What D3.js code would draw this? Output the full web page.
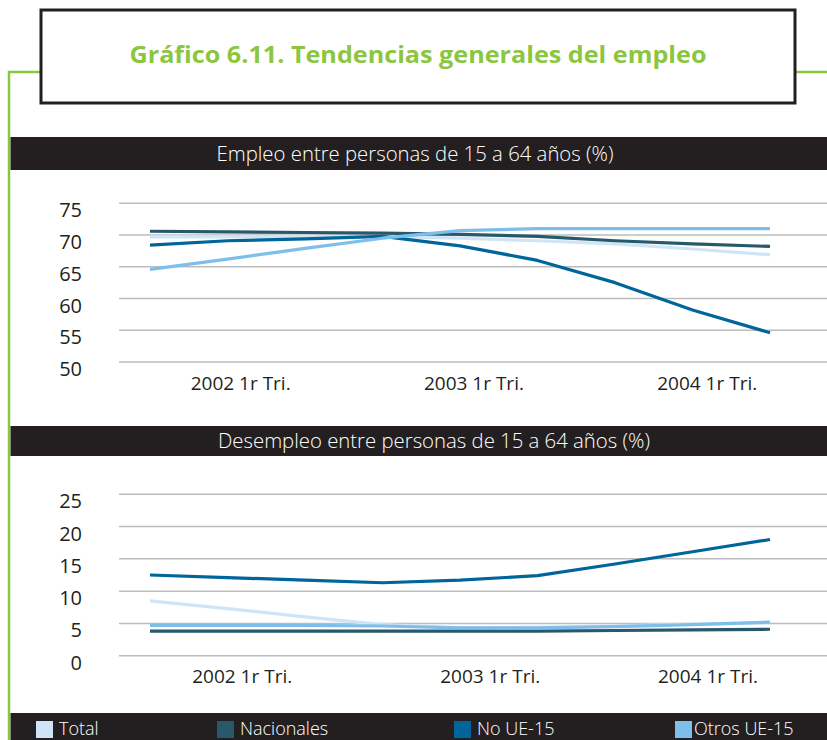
<!DOCTYPE html>
<html>
<head>
<meta charset="utf-8">
<script src="https://cdn.jsdelivr.net/npm/d3@7"></script>
<style>
  html, body { margin: 0; padding: 0; background: #fff; }
  svg { display: block; }
  text { font-family: "Open Sans", "Noto Sans", sans-serif; }
</style>
</head>
<body>
<svg id="chart" width="827" height="740"></svg>
<script>
// ---------- DATA ----------
const title = "Gráfico 6.11. Tendencias generales del empleo";
const panelTitles = ["Empleo entre personas de 15 a 64 años (%)",
                     "Desempleo entre personas de 15 a 64 años (%)"];
const seriesNames = ["Total", "Nacionales", "No UE-15", "Otros UE-15"];
const xLabels = ["2002 1r Tri.", "2003 1r Tri.", "2004 1r Tri."];
// observation index of each label (per panel)
const xLabelPosEmpleo = [1.17, 4.18, 7.19];
const xLabelPosDesempleo = [1.19, 4.39, 7.20];
const yTicksEmpleo = [50, 55, 60, 65, 70, 75];
const yTicksDesempleo = [0, 5, 10, 15, 20, 25];

// Employment (%)
const empleoTotal      = [69.7, 69.7, 69.8, 69.8, 69.5, 69.1, 68.6, 67.8, 66.9];
const empleoNacionales = [70.6, 70.5, 70.4, 70.3, 70.1, 69.8, 69.1, 68.6, 68.2];
const empleoNoUE15     = [68.4, 69.1, 69.4, 69.8, 68.3, 66.0, 62.5, 58.2, 54.6];
const empleoOtrosUE15  = [64.6, 66.2, 67.9, 69.5, 70.7, 71.0, 71.0, 71.0, 71.0];
// Unemployment (%)
const desempleoTotal      = [8.5, 7.3, 6.0, 4.8, 4.3, 4.4, 4.6, 4.9, 5.1];
const desempleoNacionales = [3.8, 3.8, 3.8, 3.8, 3.8, 3.8, 3.9, 4.0, 4.1];
const desempleoNoUE15     = [12.5, 12.1, 11.7, 11.3, 11.7, 12.4, 14.2, 16.1, 18.0];
const desempleoOtrosUE15  = [4.7, 4.7, 4.7, 4.6, 4.3, 4.3, 4.5, 4.8, 5.2];

// ---------- STYLE ----------
const colors = ["#cfe5f7", "#27596b", "#00659a", "#7dbfea"];
const green = "#8cc63f";
const dark = "#231f20";

const svg = d3.select("#chart");

// frame lines
svg.append("path")
  .attr("d", "M9,740 L9,72 L41,72 M795,72 L827,72")
  .attr("fill", "none").attr("stroke", green).attr("stroke-width", 2.5);

// title box
svg.append("rect").attr("x", 41).attr("y", 10).attr("width", 754).attr("height", 93)
  .attr("fill", "#fff").attr("stroke", dark).attr("stroke-width", 3);
svg.append("text").attr("x", 418).attr("y", 63).attr("text-anchor", "middle")
  .attr("fill", green).attr("font-size", 23).attr("font-weight", 700)
  .attr("textLength", 577).attr("lengthAdjust", "spacingAndGlyphs")
  .text(title);

function panel(cfg) {
  const g = svg.append("g");
  // header band
  g.append("rect").attr("x", 10.5).attr("y", cfg.bandY).attr("width", 817).attr("height", cfg.bandH)
    .attr("fill", dark);
  g.append("text").attr("x", cfg.bandTextX).attr("y", cfg.bandY + cfg.bandH / 2 + 7)
    .attr("text-anchor", "middle").attr("fill", "#fff").attr("font-size", 20)
    .attr("font-weight", 300)
    .attr("textLength", cfg.bandTextW).attr("lengthAdjust", "spacingAndGlyphs")
    .text(cfg.title);

  const x = d3.scaleLinear().domain([0, 8]).range([150, 770]);
  const y = d3.scaleLinear().domain(cfg.yDomain).range(cfg.yRange);

  // grid
  g.append("g").selectAll("line").data(cfg.yTicks).join("line")
    .attr("x1", 119).attr("x2", 827)
    .attr("y1", d => y(d)).attr("y2", d => y(d))
    .attr("stroke", "#bdbdbd").attr("stroke-width", 1.5);

  // y labels
  g.append("g").selectAll("text").data(cfg.yTicks).join("text")
    .attr("x", 82).attr("y", d => y(d) + 14)
    .attr("text-anchor", "end").attr("fill", dark).attr("font-size", 20)
    .text(d => d);

  // x labels
  g.append("g").selectAll("text").data(xLabels).join("text")
    .attr("x", (d, i) => x(cfg.xPos[i])).attr("y", cfg.xLabelY)
    .attr("text-anchor", "middle").attr("fill", dark).attr("font-size", 19)
    .text(d => d);

  const line = d3.line().x((d, i) => x(i)).y(d => y(d));
  g.append("g").selectAll("path").data(cfg.series).join("path")
    .attr("d", d => line(d))
    .attr("fill", "none")
    .attr("stroke", (d, i) => colors[i])
    .attr("stroke-width", 3.2)
    .attr("stroke-linejoin", "round");
}

panel({
  bandY: 137, bandH: 33, bandTextX: 415, bandTextW: 397, title: panelTitles[0],
  yDomain: [50, 75], yRange: [362, 203.3], yTicks: yTicksEmpleo,
  xPos: xLabelPosEmpleo, xLabelY: 390,
  series: [empleoTotal, empleoNacionales, empleoNoUE15, empleoOtrosUE15]
});
panel({
  bandY: 426, bandH: 30, bandTextX: 434, bandTextW: 432, title: panelTitles[1],
  yDomain: [0, 25], yRange: [655.7, 494.3], yTicks: yTicksDesempleo,
  xPos: xLabelPosDesempleo, xLabelY: 683,
  series: [desempleoTotal, desempleoNacionales, desempleoNoUE15, desempleoOtrosUE15]
});

// legend band
svg.append("rect").attr("x", 10.5).attr("y", 713).attr("width", 817).attr("height", 27).attr("fill", dark);
const legendX = [36, 217, 454, 675];
const lg = svg.append("g").selectAll("g").data(seriesNames).join("g")
  .attr("transform", (d, i) => `translate(${legendX[i]},721)`);
lg.append("rect").attr("width", 17).attr("height", 17).attr("fill", (d, i) => colors[i]);
lg.append("text").attr("x", (d, i) => i === 3 ? 19 : 23).attr("y", 14)
  .attr("fill", "#fff").attr("font-size", 18).attr("font-weight", 300)
  .text(d => d);
</script>
</body>
</html>
